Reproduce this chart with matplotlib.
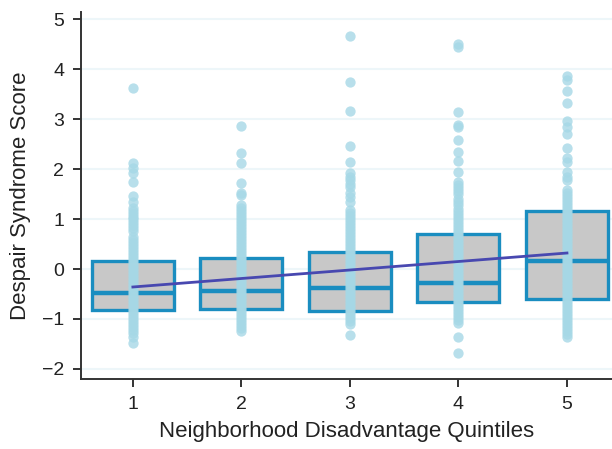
import matplotlib.pyplot as plt

# quintiles on the x axis
quintiles = [1, 2, 3, 4, 5]

# box summaries per quintile: lower quartile, median, upper quartile
q1 = [-0.82, -0.80, -0.84, -0.66, -0.60]
med = [-0.48, -0.44, -0.38, -0.28, 0.16]
q3 = [0.16, 0.22, 0.34, 0.70, 1.16]

# fitted trend across the quintiles
trend_x = [1, 5]
trend_y = [-0.36, 0.32]

# individual scores per quintile
scores_1 = [3.62, 2.12, 2.02, 1.92, 1.74, 1.46, 1.34, 1.22, 1.16, 1.10, 1.04, 1.00,
            0.94, 0.88, 0.82, 0.76, 0.64, 0.58, 0.52, 0.46, 0.40, 0.34, 0.28, 0.22,
            0.16, 0.10, 0.04, -0.02, -0.08, -0.14, -0.20, -0.26, -0.32, -0.38, -0.44,
            -0.50, -0.56, -0.62, -0.68, -0.74, -0.80, -0.86, -0.92, -0.98, -1.04,
            -1.10, -1.16, -1.22, -1.28, -1.36, -1.48]
scores_2 = [2.87, 2.33, 2.12, 1.72, 1.52, 1.48, 1.28, 1.22, 1.16, 1.10, 1.04, 0.98,
            0.92, 0.86, 0.80, 0.74, 0.68, 0.62, 0.56, 0.50, 0.44, 0.38, 0.32, 0.26,
            0.20, 0.14, 0.08, 0.02, -0.04, -0.10, -0.16, -0.22, -0.28, -0.34, -0.40,
            -0.46, -0.52, -0.58, -0.64, -0.70, -0.76, -0.82, -0.88, -0.94, -1.00,
            -1.06, -1.12, -1.18, -1.24]
scores_3 = [4.66, 3.74, 3.16, 2.46, 2.14, 1.92, 1.84, 1.78, 1.70, 1.64, 1.52, 1.44,
            1.34, 1.18, 1.12, 1.06, 1.00, 0.94, 0.88, 0.82, 0.76, 0.70, 0.64, 0.58,
            0.52, 0.46, 0.40, 0.34, 0.28, 0.22, 0.16, 0.10, 0.04, -0.02, -0.08, -0.14,
            -0.20, -0.26, -0.32, -0.38, -0.44, -0.50, -0.56, -0.62, -0.68, -0.74,
            -0.80, -0.86, -0.92, -0.98, -1.04, -1.10, -1.32]
scores_4 = [4.50, 4.45, 3.14, 2.88, 2.84, 2.58, 2.34, 2.16, 1.94, 1.74, 1.68, 1.62,
            1.56, 1.50, 1.40, 1.34, 1.28, 1.20, 1.14, 1.08, 1.02, 0.96, 0.90, 0.84,
            0.78, 0.72, 0.66, 0.60, 0.54, 0.48, 0.42, 0.36, 0.30, 0.24, 0.18, 0.12,
            0.06, 0.00, -0.06, -0.12, -0.18, -0.24, -0.30, -0.36, -0.42, -0.48, -0.54,
            -0.60, -0.66, -0.72, -0.78, -0.84, -0.90, -0.96, -1.02, -1.08, -1.36, -1.68]
scores_5 = [3.86, 3.78, 3.56, 3.32, 2.96, 2.84, 2.70, 2.42, 2.22, 2.14, 1.94, 1.84,
            1.78, 1.58, 1.52, 1.46, 1.40, 1.34, 1.28, 1.22, 1.16, 1.10, 1.04, 0.98,
            0.92, 0.86, 0.80, 0.74, 0.68, 0.62, 0.56, 0.50, 0.44, 0.38, 0.32, 0.26,
            0.20, 0.14, 0.08, 0.02, -0.04, -0.10, -0.16, -0.22, -0.28, -0.34, -0.40,
            -0.46, -0.52, -0.58, -0.64, -0.70, -0.76, -0.82, -0.88, -0.94, -1.00,
            -1.06, -1.12, -1.18, -1.24, -1.30, -1.36]
scores = [scores_1, scores_2, scores_3, scores_4, scores_5]

plt.rcParams['font.family'] = ['Liberation Sans Narrow', 'Liberation Sans', 'DejaVu Sans']

fig = plt.figure(figsize=(6.12, 4.49), dpi=100)
ax = fig.add_axes([0.132, 0.156, 0.868, 0.817])

box_color = '#1a8dc0'
box_width = 0.755
for x, lo, m, hi in zip(quintiles, q1, med, q3):
    ax.add_patch(plt.Rectangle((x - box_width / 2, lo), box_width, hi - lo,
                               facecolor='#c8c8c8', edgecolor=box_color,
                               linewidth=2.4, zorder=2))
    ax.plot([x - box_width / 2, x + box_width / 2], [m, m], color=box_color,
            linewidth=3.2, zorder=2, solid_capstyle='butt')

for x, vals in zip(quintiles, scores):
    ax.scatter([x] * len(vals), vals, s=55, color='#a6d8e6', alpha=0.8,
               linewidths=0, zorder=3)

ax.plot(trend_x, trend_y, color='#4848b0', linewidth=2, zorder=4)

ax.set_xlim(0.52, 5.415)
ax.set_ylim(-2.2, 5.14)
ax.set_xticks(quintiles)
ax.set_yticks(range(-2, 6))
ax.set_yticklabels(['\u22122', '\u22121', '0', '1', '2', '3', '4', '5'])
ax.grid(axis='y', color='#edf6f9', linewidth=1.5, zorder=0)
ax.set_axisbelow(True)

for side in ['top', 'right']:
    ax.spines[side].set_visible(False)
for side in ['left', 'bottom']:
    ax.spines[side].set_color('#333333')
    ax.spines[side].set_linewidth(1.4)
ax.tick_params(colors='#333333', width=1.4, length=6, labelsize=14, pad=6)
ax.tick_params(axis='x', labelcolor='#222222')
ax.tick_params(axis='y', labelcolor='#222222')

ax.set_xlabel('Neighborhood Disadvantage Quintiles', fontsize=16, color='#222222',
              labelpad=6)
ax.set_ylabel('Despair Syndrome Score', fontsize=16, color='#222222', labelpad=8)

plt.savefig('out.png', dpi=100)
